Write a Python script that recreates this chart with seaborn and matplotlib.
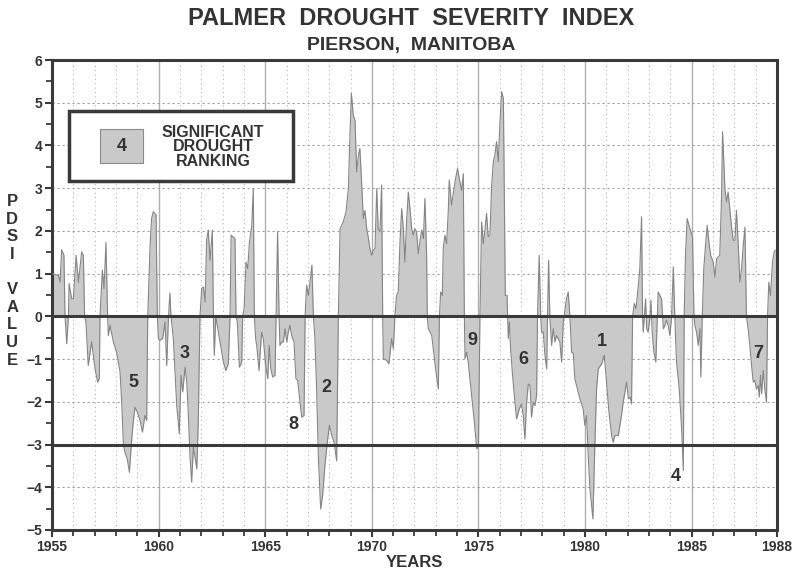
import matplotlib
matplotlib.use("Agg")
import matplotlib.pyplot as plt
import seaborn as sns
import pandas as pd
from matplotlib.patches import Rectangle
from matplotlib.ticker import MultipleLocator

# ---------------- data ----------------
years = [
    1955.00, 1955.30, 1955.38, 1955.45, 1955.56, 1955.61, 1955.69, 1955.77, 1955.80, 1955.92,
    1956.00, 1956.13, 1956.24, 1956.39, 1956.47, 1956.53, 1956.59, 1956.70, 1956.86, 1957.02,
    1957.14, 1957.22, 1957.25, 1957.30, 1957.36, 1957.44, 1957.53, 1957.61, 1957.64, 1957.72,
    1957.88, 1958.03, 1958.19, 1958.27, 1958.35, 1958.42, 1958.53, 1958.63, 1958.74, 1958.81,
    1958.89, 1959.00, 1959.13, 1959.24, 1959.36, 1959.44, 1959.49, 1959.60, 1959.67, 1959.75,
    1959.88, 1959.94, 1959.99, 1960.07, 1960.19, 1960.30, 1960.38, 1960.46, 1960.53, 1960.58,
    1960.69, 1960.77, 1960.85, 1960.97, 1961.05, 1961.13, 1961.24, 1961.32, 1961.39, 1961.47,
    1961.55, 1961.63, 1961.71, 1961.79, 1961.86, 1961.94, 1962.02, 1962.10, 1962.18, 1962.25,
    1962.33, 1962.41, 1962.52, 1962.57, 1962.61, 1962.68, 1962.72, 1962.88, 1963.04, 1963.15,
    1963.27, 1963.35, 1963.40, 1963.58, 1963.63, 1963.69, 1963.79, 1963.90, 1963.94, 1964.01,
    1964.10, 1964.18, 1964.26, 1964.37, 1964.44, 1964.49, 1964.55, 1964.60, 1964.71, 1964.83,
    1964.91, 1965.02, 1965.12, 1965.19, 1965.26, 1965.35, 1965.46, 1965.58, 1965.65, 1965.69,
    1965.77, 1965.85, 1965.93, 1966.01, 1966.08, 1966.16, 1966.24, 1966.35, 1966.44, 1966.52,
    1966.63, 1966.71, 1966.82, 1966.87, 1966.94, 1967.02, 1967.10, 1967.19, 1967.26, 1967.33,
    1967.41, 1967.49, 1967.60, 1967.69, 1967.80, 1967.93, 1968.01, 1968.12, 1968.23, 1968.35,
    1968.43, 1968.51, 1968.66, 1968.79, 1968.90, 1968.98, 1969.04, 1969.13, 1969.21, 1969.29,
    1969.37, 1969.44, 1969.52, 1969.60, 1969.68, 1969.76, 1969.83, 1969.91, 1969.99, 1970.07,
    1970.15, 1970.23, 1970.30, 1970.38, 1970.46, 1970.51, 1970.54, 1970.69, 1970.80, 1970.93,
    1971.01, 1971.08, 1971.16, 1971.24, 1971.32, 1971.40, 1971.48, 1971.55, 1971.63, 1971.71,
    1971.79, 1971.87, 1971.94, 1972.02, 1972.10, 1972.18, 1972.26, 1972.34, 1972.42, 1972.49,
    1972.57, 1972.60, 1972.65, 1972.81, 1972.92, 1973.01, 1973.12, 1973.17, 1973.23, 1973.31,
    1973.35, 1973.43, 1973.51, 1973.59, 1973.63, 1973.74, 1973.82, 1973.90, 1974.02, 1974.13,
    1974.21, 1974.29, 1974.34, 1974.37, 1974.45, 1974.52, 1974.68, 1974.81, 1974.92, 1975.00,
    1975.07, 1975.15, 1975.23, 1975.31, 1975.38, 1975.46, 1975.54, 1975.62, 1975.70, 1975.77,
    1975.85, 1975.93, 1976.01, 1976.09, 1976.17, 1976.26, 1976.34, 1976.37, 1976.40, 1976.45,
    1976.51, 1976.60, 1976.71, 1976.79, 1976.92, 1977.02, 1977.10, 1977.18, 1977.26, 1977.34,
    1977.42, 1977.49, 1977.57, 1977.65, 1977.73, 1977.77, 1977.85, 1977.92, 1977.96, 1978.04,
    1978.12, 1978.20, 1978.24, 1978.29, 1978.35, 1978.43, 1978.51, 1978.59, 1978.66, 1978.74,
    1978.82, 1978.90, 1978.98, 1979.02, 1979.13, 1979.21, 1979.29, 1979.37, 1979.45, 1979.52,
    1979.60, 1979.76, 1979.91, 1979.99, 1980.07, 1980.15, 1980.23, 1980.37, 1980.46, 1980.54,
    1980.62, 1980.78, 1980.90, 1981.01, 1981.12, 1981.25, 1981.32, 1981.40, 1981.56, 1981.71,
    1981.79, 1981.87, 1981.95, 1982.03, 1982.11, 1982.18, 1982.23, 1982.31, 1982.39, 1982.50,
    1982.57, 1982.65, 1982.70, 1982.73, 1982.78, 1982.84, 1982.89, 1982.96, 1983.04, 1983.09,
    1983.15, 1983.23, 1983.32, 1983.39, 1983.43, 1983.51, 1983.59, 1983.67, 1983.75, 1983.82,
    1983.90, 1983.98, 1984.06, 1984.14, 1984.21, 1984.29, 1984.42, 1984.53, 1984.61, 1984.65,
    1984.71, 1984.79, 1984.92, 1985.04, 1985.11, 1985.15, 1985.23, 1985.31, 1985.39, 1985.43,
    1985.50, 1985.57, 1985.65, 1985.73, 1985.81, 1985.89, 1986.01, 1986.09, 1986.17, 1986.32,
    1986.40, 1986.45, 1986.56, 1986.64, 1986.71, 1986.79, 1986.87, 1986.95, 1987.03, 1987.10,
    1987.18, 1987.26, 1987.34, 1987.42, 1987.50, 1987.57, 1987.65, 1987.73, 1987.81, 1987.89,
    1987.96, 1988.04, 1988.12, 1988.17, 1988.23, 1988.28, 1988.36, 1988.43, 1988.51, 1988.56,
    1988.62, 1988.70, 1988.79, 1988.87, 1988.93,
]
pdsi = [
    1.00, 0.96, 0.80, 1.56, 1.43, 0.00, -0.64, 0.00, 0.77, 0.41,
    0.41, 1.43, 0.80, 1.51, 1.43, 0.00, -0.13, -1.15, -0.60, -1.23,
    -1.54, -1.46, 0.00, 0.49, 1.08, 0.65, 1.73, 0.00, -0.45, -0.21,
    -0.60, -0.84, -1.30, -2.01, -3.02, -3.18, -3.34, -3.65, -2.87, -2.48,
    -2.13, -2.24, -2.44, -2.71, -2.32, -2.44, 0.00, 1.66, 2.29, 2.45,
    2.38, 0.00, -0.52, -0.56, -0.52, -0.13, -1.15, -0.05, 0.55, 0.00,
    -0.52, -1.30, -2.09, -2.75, -1.38, -1.77, -1.19, -1.54, -2.24, -3.26,
    -3.88, -3.06, -3.30, -3.57, -2.48, 0.00, 0.65, 0.69, 0.34, 1.78,
    2.02, 1.31, 2.02, 0.00, -0.91, -0.05, -0.13, -0.60, -1.07, -1.27,
    -1.11, 0.00, 1.90, 1.82, 0.00, -0.13, -1.19, -1.07, 0.00, 0.18,
    1.27, 1.12, 1.74, 2.13, 2.99, 0.00, -0.52, -0.68, -1.27, -0.37,
    -0.52, -1.15, -1.46, -0.68, -1.23, -1.42, -1.38, 1.98, 0.00, -0.68,
    -0.60, -0.60, -0.29, -0.60, -0.37, -0.21, -0.45, -0.60, -1.46, -1.50,
    -2.01, -2.36, -2.32, 0.00, 0.73, 0.49, 0.80, 1.20, 0.00, -0.52,
    -1.70, -3.26, -4.51, -4.20, -3.49, -2.87, -2.55, -2.79, -2.95, -3.38,
    0.00, 2.05, 2.21, 2.45, 2.99, 4.32, 5.22, 4.71, 4.59, 3.38,
    3.77, 3.93, 3.15, 2.29, 2.48, 2.05, 1.86, 1.59, 1.43, 1.55,
    1.59, 2.99, 2.05, 1.98, 3.07, 0.00, -0.99, -1.03, -1.11, -0.52,
    -0.76, 0.00, 0.49, 0.57, 1.74, 2.52, 2.05, 1.27, 2.21, 2.91,
    2.52, 2.05, 1.90, 2.05, 1.98, 1.47, 1.78, 2.02, 1.82, 2.76,
    1.43, 0.00, -0.29, -0.45, -0.91, -1.30, -1.70, 0.00, 0.57, 0.49,
    1.59, 1.90, 1.70, 2.52, 3.19, 2.60, 2.88, 3.15, 3.46, 3.15,
    2.95, 3.34, 0.00, -0.99, -0.84, -1.07, -1.85, -2.48, -3.10, -3.02,
    0.00, 2.21, 1.70, 2.05, 2.41, 1.86, 1.90, 3.07, 3.62, 3.77,
    4.09, 3.62, 4.55, 5.26, 5.10, 0.49, 0.49, 0.00, -0.52, -0.13,
    -0.76, -1.38, -2.01, -2.40, -2.16, -2.05, -2.32, -2.87, -2.01, -1.58,
    -1.62, -2.36, -2.01, -2.09, -1.85, 0.00, 1.43, 0.00, -0.37, -0.37,
    -0.91, -1.23, 0.00, 1.31, 0.00, -0.68, -0.29, -0.60, -0.45, -0.52,
    -0.60, -1.07, -0.13, 0.00, 0.41, 0.57, 0.00, -0.84, -0.87, -1.46,
    -1.62, -1.93, -2.16, -2.55, -2.32, -3.26, -4.04, -4.74, -3.02, -1.70,
    -1.23, -1.11, -0.91, -1.54, -2.24, -2.79, -2.95, -2.79, -2.79, -2.32,
    -2.01, -1.77, -1.54, -1.93, -1.89, -2.05, 0.00, 0.30, 0.18, 0.73,
    1.12, 2.33, 0.00, -0.37, 0.00, 0.41, -0.29, -0.37, -0.05, 0.38,
    -0.37, -0.84, -1.07, 0.00, 0.57, 0.49, 0.41, -0.29, -0.21, -0.09,
    -0.21, -0.45, 0.00, 1.16, 0.00, -1.07, -1.70, -2.63, -3.61, 0.00,
    1.43, 2.29, 2.05, 1.86, 0.00, -0.21, -0.37, -0.68, -0.29, -1.42,
    0.00, 1.12, 1.66, 2.13, 1.74, 1.43, 1.27, 0.92, 1.35, 1.43,
    2.76, 4.32, 2.99, 2.68, 2.91, 2.52, 2.09, 1.78, 1.78, 2.48,
    1.74, 0.80, 1.12, 1.66, 2.09, 0.00, -0.29, -0.68, -1.15, -1.54,
    -1.50, -1.70, -1.62, -1.89, -1.38, -1.81, -1.27, -1.70, -2.01, 0.00,
    0.80, 0.49, 1.27, 1.51, 1.55,
]

# drought rankings (label, year, value position)
rank_labels = ["5", "3", "8", "2", "9", "6", "1", "4", "7"]
rank_years = [1958.81, 1961.24, 1966.32, 1967.88, 1974.71, 1977.13, 1980.81, 1984.25, 1988.12]
rank_values = [-1.54, -0.88, -2.52, -1.66, -0.56, -1.01, -0.60, -3.74, -0.86]

x_tick_pos = [1955, 1960, 1965, 1970, 1975, 1980, 1985, 1989]
x_tick_labels = ["1955", "1960", "1965", "1970", "1975", "1980", "1985", "1988"]
y_ticks = list(range(-5, 7))

df = pd.DataFrame({"year": years, "pdsi": pdsi})

# ---------------- styling ----------------
sns.set_theme(style="white")
FONT = ["Liberation Sans Narrow", "Liberation Sans", "DejaVu Sans"]
plt.rcParams["font.family"] = FONT
plt.rcParams["font.weight"] = "bold"

dark = "#3a3a3a"
fig = plt.figure(figsize=(7.94, 5.77), dpi=100)
ax = fig.add_axes([0.0655, 0.0815, 0.9130, 0.8145])

ax.set_xlim(1955, 1989)
ax.set_ylim(-5, 6)

# grid: dotted every year / every integer, solid light every 5 years
for yr in range(1956, 1989):
    if yr % 5 == 0:
        ax.axvline(yr, color="#b0b0b0", lw=1.0, zorder=1)
    else:
        ax.axvline(yr, color="#a8a8a8", lw=0.7, ls=(0, (1, 3.5)), zorder=1)
for v in y_ticks:
    if v not in (0, -3):
        ax.axhline(v, color="#a0a0a0", lw=0.8, ls=(0, (2, 2.5)), zorder=1)

ax.fill_between(df["year"], df["pdsi"], 0, color="#c9c9c9", lw=0, zorder=2)
sns.lineplot(data=df, x="year", y="pdsi", ax=ax, color="#858585", lw=0.8,
             estimator=None, sort=False, zorder=3)

ax.axhline(0, color=dark, lw=2.2, zorder=4)
ax.axhline(-3, color=dark, lw=2.2, zorder=4)

for lab, xv, yv in zip(rank_labels, rank_years, rank_values):
    ax.text(xv, yv, lab, ha="center", va="center", fontsize=13,
            fontweight="bold", color="#333333", zorder=5, family=FONT)

# ticks
ax.set_xticks(x_tick_pos)
ax.set_xticklabels(x_tick_labels)
ax.xaxis.set_minor_locator(MultipleLocator(1))
ax.set_yticks(y_ticks)
ax.yaxis.set_minor_locator(MultipleLocator(0.5))
ax.tick_params(axis="both", which="major", direction="out", length=5, width=1.5,
               color=dark, labelsize=10, labelcolor="#333333", pad=2)
ax.tick_params(axis="both", which="minor", direction="out", length=4, width=1.3,
               color=dark)
ax.tick_params(axis="x", which="both", bottom=True)
ax.tick_params(axis="y", which="both", left=True)
for lab in ax.get_xticklabels() + ax.get_yticklabels():
    lab.set_fontweight("bold")
    lab.set_family(FONT)

for sp in ax.spines.values():
    sp.set_color(dark)
    sp.set_linewidth(2.2)
    sp.set_visible(True)

ax.set_xlabel("YEARS", fontsize=12, fontweight="bold", color="#333333", labelpad=1)
ax.set_ylabel("")

# vertical stacked y label
ax.text(-0.055, 0.53, "P\nD\nS\nI\n\nV\nA\nL\nU\nE", transform=ax.transAxes,
        ha="center", va="center", fontsize=12, fontweight="bold", color="#333333",
        linespacing=1.22, family=FONT)

# legend box
ax.add_patch(Rectangle((0.023, 0.743), 0.309, 0.148, transform=ax.transAxes,
                       facecolor="white", edgecolor=dark, lw=2.5, zorder=6))
ax.add_patch(Rectangle((0.066, 0.781), 0.0595, 0.072, transform=ax.transAxes,
                       facecolor="#c9c9c9", edgecolor="#8a8a8a", lw=0.8, zorder=7))
ax.text(0.096, 0.817, "4", transform=ax.transAxes, ha="center", va="center",
        fontsize=13, fontweight="bold", color="#333333", zorder=8, family=FONT)
ax.text(0.222, 0.815, "SIGNIFICANT\nDROUGHT\nRANKING", transform=ax.transAxes,
        ha="center", va="center", fontsize=11.5, fontweight="bold", color="#333333",
        linespacing=0.95, zorder=8, family=FONT)

fig.text(0.5175, 0.968, "PALMER  DROUGHT  SEVERITY  INDEX", ha="center", va="center",
         fontsize=17, fontweight="bold", color="#333333", family=FONT)
fig.text(0.5175, 0.922, "PIERSON,  MANITOBA", ha="center", va="center",
         fontsize=14, fontweight="bold", color="#333333", family=FONT)

fig.savefig("out.png", dpi=100)
